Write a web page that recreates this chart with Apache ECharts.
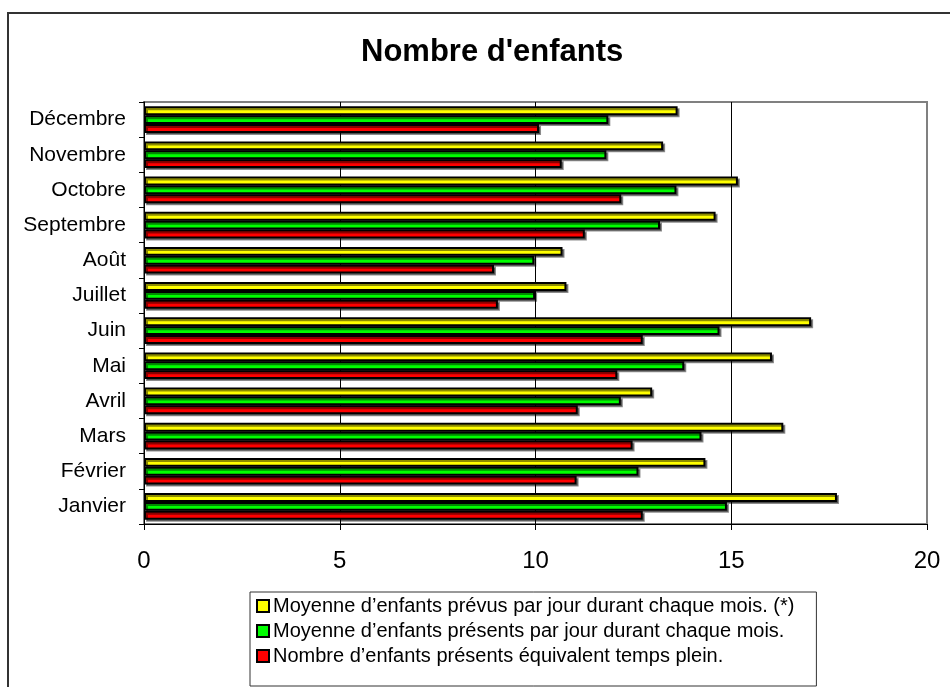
<!DOCTYPE html>
<html>
<head>
<meta charset="utf-8">
<script src="https://cdn.jsdelivr.net/npm/echarts@6/dist/echarts.min.js"></script>
<style>
  html, body { margin: 0; padding: 0; background: #fff; }
  #chart { width: 950px; height: 687px; }
</style>
</head>
<body>
<div id="chart"></div>
<script>
// months, bottom to top
const months = ['Janvier', 'Février', 'Mars', 'Avril', 'Mai', 'Juin',
  'Juillet', 'Août', 'Septembre', 'Octobre', 'Novembre', 'Décembre']

const prevusName = 'Moyenne d\u2019enfants prévus par jour durant chaque mois. (*)'
const presentsName = 'Moyenne d\u2019enfants présents par jour durant chaque mois.'
const etpName = 'Nombre d\u2019enfants présents équivalent temps plein.'

const prevus = [17.70, 14.34, 16.33, 12.98, 16.04, 17.04, 10.79, 10.69, 14.60, 15.17, 13.26, 13.63]
const presents = [14.89, 12.63, 14.24, 12.18, 13.80, 14.70, 9.99, 9.97, 13.18, 13.60, 11.81, 11.86]
const etp = [12.74, 11.05, 12.48, 11.08, 12.09, 12.74, 9.04, 8.94, 11.26, 12.19, 10.67, 10.09]

const xTicks = [0, 5, 10, 15, 20]

const font = 'Arial, "Liberation Sans", sans-serif'

const chart = echarts.init(document.getElementById('chart'))

function barSeries(name, data, color) {
  return {
    name,
    type: 'bar',
    data,
    barGap: '0%',
    barCategoryGap: '24%',
    itemStyle: {
      color,
      borderColor: '#000',
      borderWidth: 2,
      shadowColor: 'rgba(0,0,0,0.45)',
      shadowOffsetX: 2,
      shadowOffsetY: 2,
      shadowBlur: 0,
    },
  }
}

chart.setOption({
  backgroundColor: '#fff',
  animation: false,
  textStyle: { fontFamily: font },
  graphic: [{
    type: 'rect',
    shape: { x: 8, y: 13, width: 1000, height: 1000 },
    style: { fill: 'none', stroke: '#333', lineWidth: 2 },
    silent: true,
  }],
  title: {
    text: 'Nombre d\'enfants',
    left: 356,
    top: 32,
    textStyle: { fontFamily: font, fontSize: 31, fontWeight: 'bold', color: '#000' },
  },
  grid: {
    left: 144, right: 23, top: 102, bottom: 163,
    show: true,
    borderColor: '#808080',
    borderWidth: 2,
    backgroundColor: '#fff',
  },
  legend: {
    orient: 'vertical',
    left: 250,
    top: 592,
    data: [prevusName, presentsName, etpName],
    icon: 'rect',
    itemWidth: 12,
    itemHeight: 12,
    itemGap: 5,
    padding: [4, 22, 20, 6],
    borderColor: '#333',
    borderWidth: 1,
    backgroundColor: '#fff',
    itemStyle: { borderColor: '#000', borderWidth: 2, shadowBlur: 0, shadowOffsetX: 0, shadowOffsetY: 0 },
    textStyle: { fontFamily: font, fontSize: 20, color: '#000', padding: [0, 0, 0, -1] },
  },
  xAxis: {
    type: 'value',
    min: xTicks[0],
    max: xTicks[xTicks.length - 1],
    interval: 5,
    axisLine: { show: true, lineStyle: { color: '#000', width: 1 } },
    axisTick: { show: true, length: 6, lineStyle: { color: '#000' } },
    axisLabel: { color: '#000', fontSize: 24, fontFamily: font, margin: 25 },
    splitLine: { show: true, showMinLine: false, showMaxLine: false, lineStyle: { color: '#000', width: 1 } },
  },
  yAxis: {
    type: 'category',
    data: months,
    axisLine: { show: true, lineStyle: { color: '#000', width: 1 } },
    axisTick: { show: true, length: 5, lineStyle: { color: '#000' } },
    axisLabel: { color: '#000', fontSize: 21, fontFamily: font, margin: 18 },
  },
  series: [
    barSeries(prevusName, prevus, '#ffff00'),
    barSeries(presentsName, presents, '#00ff00'),
    barSeries(etpName, etp, '#ff0000'),
  ],
})
</script>
</body>
</html>
